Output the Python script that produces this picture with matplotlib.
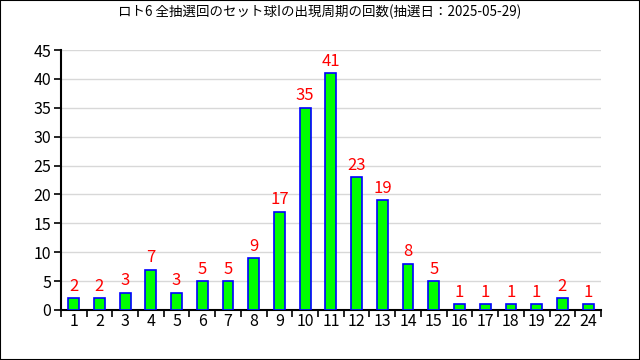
import matplotlib
matplotlib.use("Agg")
import matplotlib.pyplot as plt
from matplotlib.ticker import FixedLocator
from matplotlib.patches import Rectangle

plt.rcParams['font.family'] = ['Noto Sans CJK JP', 'DejaVu Sans']

categories = ["1", "2", "3", "4", "5", "6", "7", "8", "9", "10", "11", "12",
              "13", "14", "15", "16", "17", "18", "19", "22", "24"]
values = [2, 2, 3, 7, 3, 5, 5, 9, 17, 35, 41, 23, 19, 8, 5, 1, 1, 1, 1, 2, 1]
title = "ロト6 全抽選回のセット球Iの出現周期の回数(抽選日：2025-05-29)"

fig = plt.figure(figsize=(6.4, 3.6), dpi=100)
ax = fig.add_axes([0.095, 0.139, 0.844, 0.722])
x = list(range(len(categories)))
ax.bar(x, values, width=0.42, color="#00ff00", edgecolor="#0000ff", linewidth=1.2, zorder=3)
for xi, v in zip(x, values):
    ax.text(xi, v + 0.6, str(v), ha="center", va="bottom", color="red", fontsize=12, zorder=4)

ax.set_xlim(-0.5, len(categories) - 0.5)
ax.set_ylim(0, 45)
ax.set_yticks(range(0, 46, 5))
ax.yaxis.grid(True, color="#d8d8d8", linewidth=1, zorder=0)
ax.set_xticks(x)
ax.set_xticklabels(categories)
ax.tick_params(axis="x", length=0, labelsize=11.5, pad=2)
ax.xaxis.set_minor_locator(FixedLocator([i + 0.5 for i in range(-1, len(categories))]))
ax.tick_params(axis="x", which="minor", length=5, width=1.2, direction="out")
ax.tick_params(axis="y", length=5, width=1.2, labelsize=11.5, pad=2)
for s in ["top", "right"]:
    ax.spines[s].set_visible(False)
for s in ["left", "bottom"]:
    ax.spines[s].set_linewidth(1.5)
ax.set_axisbelow(True)

fig.text(0.5, 0.968, title, ha="center", va="center", fontsize=9.7)
fig.patches.append(Rectangle((0, 0), 1, 1, transform=fig.transFigure, fill=False,
                             edgecolor="black", linewidth=1.5))
fig.savefig("out.png", dpi=100)
